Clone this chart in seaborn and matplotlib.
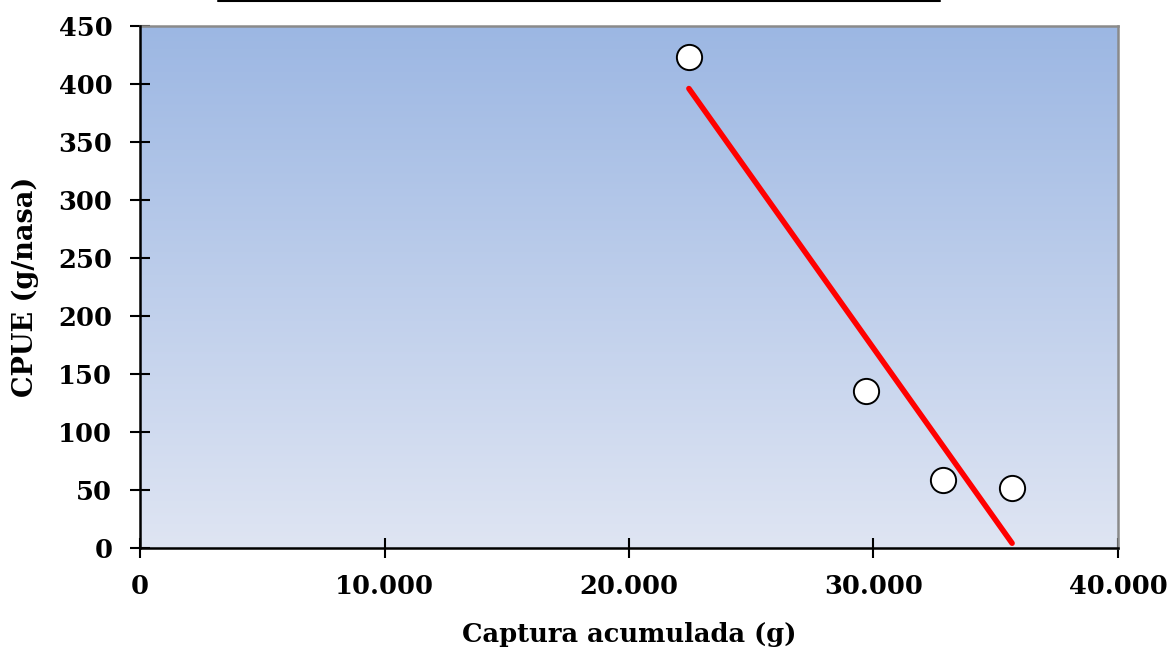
import numpy as np
import pandas as pd
import matplotlib
matplotlib.use("Agg")
import matplotlib.pyplot as plt
from matplotlib.colors import LinearSegmentedColormap
from matplotlib.lines import Line2D
import seaborn as sns

# Accumulated catch (g) and catch per unit effort (g per trap)
captura_acumulada = [22450, 29700, 32850, 35670]
cpue = [423, 135, 59, 52]

x_ticks = [0, 10000, 20000, 30000, 40000]
x_tick_labels = ["0", "10.000", "20.000", "30.000", "40.000"]
y_ticks = [0, 50, 100, 150, 200, 250, 300, 350, 400, 450]

df = pd.DataFrame({"captura": captura_acumulada, "cpue": cpue})

sns.set_theme(style="white")
plt.rcParams["font.family"] = ["DejaVu Serif"]
plt.rcParams["font.weight"] = "bold"
plt.rcParams["text.color"] = "black"
plt.rcParams["axes.labelcolor"] = "black"
plt.rcParams["xtick.color"] = "black"
plt.rcParams["ytick.color"] = "black"

fig = plt.figure(figsize=(11.71, 6.53), dpi=100)
ax = fig.add_axes([0.1196, 0.1608, 0.8351, 0.7994])

# Vertical gradient fill of the plotting area
grad_cmap = LinearSegmentedColormap.from_list("bg", ["#dfe5f3", "#9cb7e3"])
grad = np.linspace(0, 1, 256).reshape(-1, 1)
ax.imshow(grad, cmap=grad_cmap, origin="lower", aspect="auto",
          extent=[0, 1, 0, 1], transform=ax.transAxes, zorder=0)

# Linear fit drawn over the range of the observations
sns.regplot(data=df, x="captura", y="cpue", ax=ax, scatter=False, ci=None,
            color="#ff0000",
            line_kws={"linewidth": 4.0, "solid_capstyle": "round", "zorder": 3})

sns.scatterplot(data=df, x="captura", y="cpue", ax=ax, s=330, marker="o",
                color="white", edgecolor="black", linewidth=1.4, zorder=4)

ax.set_xlim(0, 40000)
ax.set_ylim(0, 450)
ax.set_xticks(x_ticks)
ax.set_xticklabels(x_tick_labels)
ax.set_yticks(y_ticks)

ax.tick_params(axis="both", which="major", direction="inout", length=14,
               width=1.5, color="black", labelcolor="black", labelsize=18.5,
               bottom=True, left=True)
ax.tick_params(axis="x", pad=12)
ax.tick_params(axis="y", pad=13)
for lab in ax.get_xticklabels() + ax.get_yticklabels():
    lab.set_fontweight("bold")

for side in ["left", "bottom"]:
    ax.spines[side].set_color("black")
    ax.spines[side].set_linewidth(1.8)
for side in ["top", "right"]:
    ax.spines[side].set_color("#8a8a8a")
    ax.spines[side].set_linewidth(1.8)
ax.spines["left"].set_zorder(5)
ax.spines["bottom"].set_zorder(5)

ax.set_xlabel("Captura acumulada (g)", fontsize=18.5, fontweight="bold",
              labelpad=16, color="black")
ax.set_ylabel("CPUE (g/nasa)", fontsize=19.5, fontweight="bold", labelpad=14,
              color="black")

# Rule under the chart heading
fig.add_artist(Line2D([0.186, 0.803], [0.999, 0.999], transform=fig.transFigure,
                      color="black", linewidth=1.5))

fig.savefig("out.png", dpi=100)
